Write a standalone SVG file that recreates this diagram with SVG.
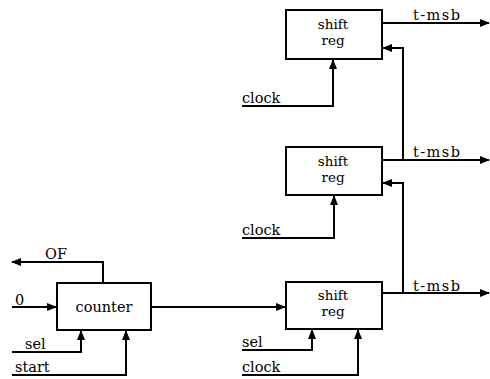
<svg xmlns="http://www.w3.org/2000/svg" width="490" height="379" viewBox="0 0 490 379">
<style>
.box{fill:#fff;stroke:#000;stroke-width:2}
.w{fill:none;stroke:#000;stroke-width:2}
text{font-family:"DejaVu Serif","Liberation Serif",serif;font-size:14.5px;fill:#000}
.c{text-anchor:middle;font-size:13.5px}
</style>
<defs>
<marker id="a" markerWidth="10" markerHeight="8" refX="9" refY="4" orient="auto" markerUnits="userSpaceOnUse">
<path d="M0,0 L10,4 L0,8 z" fill="#000"/>
</marker>
</defs>
<rect width="490" height="379" fill="#fff"/>
<g id="connectors">
<path class="w" d="M382,23 H489" marker-end="url(#a)"/>
<path class="w" d="M382,160 H489" marker-end="url(#a)"/>
<path class="w" d="M382,293 H489" marker-end="url(#a)"/>
<path class="w" d="M403,160 V48 H383" marker-end="url(#a)"/>
<path class="w" d="M403,293 V183 H383" marker-end="url(#a)"/>
<path class="w" d="M242,106 H333 V60" marker-end="url(#a)"/>
<path class="w" d="M242,238 H334 V196" marker-end="url(#a)"/>
<path class="w" d="M242,350 H312 V330" marker-end="url(#a)"/>
<path class="w" d="M242,375 H358 V330" marker-end="url(#a)"/>
<path class="w" d="M151,307 H285" marker-end="url(#a)"/>
<path class="w" d="M12,307 H56" marker-end="url(#a)"/>
<path class="w" d="M103,283 V262 H12" marker-end="url(#a)"/>
<path class="w" d="M12,352 H81 V331" marker-end="url(#a)"/>
<path class="w" d="M12,375 H126 V331" marker-end="url(#a)"/>
</g>
<g id="shiftreg1"><rect class="box" x="286" y="10" width="96" height="49"/><text class="c" x="333" y="29">shift</text><text class="c" x="333" y="45">reg</text></g>
<g id="shiftreg2"><rect class="box" x="286" y="147" width="96" height="48"/><text class="c" x="333" y="166">shift</text><text class="c" x="333" y="182">reg</text></g>
<g id="shiftreg3"><rect class="box" x="286" y="282" width="96" height="47"/><text class="c" x="333" y="300">shift</text><text class="c" x="333" y="316">reg</text></g>
<g id="counter"><rect class="box" x="57" y="283" width="94" height="47"/><text x="104" y="312" text-anchor="middle">counter</text></g>
<g id="labels">
<text x="413" y="20" textLength="47" lengthAdjust="spacing">t-msb</text>
<text x="413" y="157" textLength="47" lengthAdjust="spacing">t-msb</text>
<text x="413" y="291" textLength="47" lengthAdjust="spacing">t-msb</text>
<text x="242" y="103">clock</text>
<text x="242" y="235">clock</text>
<text x="242" y="347">sel</text>
<text x="242" y="372">clock</text>
<text x="15" y="305">0</text>
<text x="45" y="259">OF</text>
<text x="25" y="349">sel</text>
<text x="15" y="372">start</text>
</g>
</svg>
